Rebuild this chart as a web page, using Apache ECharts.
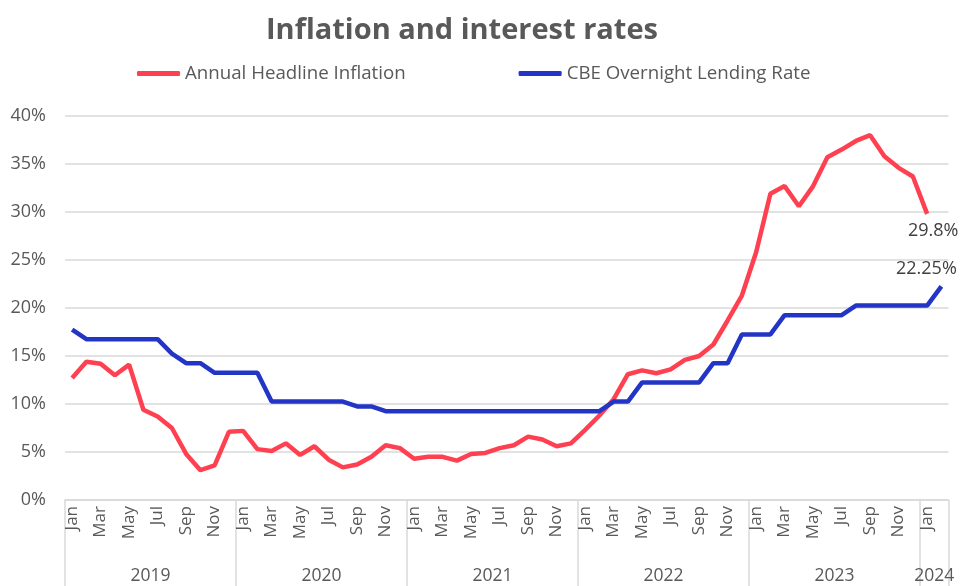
<!DOCTYPE html>
<html>
<head>
<meta charset="utf-8">
<script src="https://cdn.jsdelivr.net/npm/echarts@6/dist/echarts.min.js"></script>
<style>
  html, body { margin: 0; padding: 0; background: #fff; }
  #chart { width: 960px; height: 586px; }
</style>
</head>
<body>
<div id="chart"></div>
<script>
// Monthly categories, Jan 2019 – Feb 2024
const monthNames = ['Jan','Feb','Mar','Apr','May','Jun','Jul','Aug','Sep','Oct','Nov','Dec'];
const years = ['2019', '2020', '2021', '2022', '2023', '2024'];
const months = [];
years.forEach(y => monthNames.forEach(m => months.push(m)));
months.length = 62;

// Annual headline inflation, % (through Jan 2024)
const inflation = [
  12.7, 14.4, 14.2, 13.0, 14.1, 9.4, 8.7, 7.5, 4.8, 3.1, 3.6, 7.1,
  7.2, 5.3, 5.1, 5.9, 4.7, 5.6, 4.2, 3.4, 3.7, 4.5, 5.7, 5.4,
  4.3, 4.5, 4.5, 4.1, 4.8, 4.9, 5.4, 5.7, 6.6, 6.3, 5.6, 5.9,
  7.3, 8.8, 10.5, 13.1, 13.5, 13.2, 13.6, 14.6, 15.0, 16.2, 18.7, 21.3,
  25.8, 31.9, 32.7, 30.6, 32.7, 35.7, 36.5, 37.4, 38.0, 35.8, 34.6, 33.7,
  29.8
];

// CBE overnight lending rate, %
const lendingRate = [
  17.75, 16.75, 16.75, 16.75, 16.75, 16.75, 16.75, 15.25, 14.25, 14.25, 13.25, 13.25,
  13.25, 13.25, 10.25, 10.25, 10.25, 10.25, 10.25, 10.25, 9.75, 9.75, 9.25, 9.25,
  9.25, 9.25, 9.25, 9.25, 9.25, 9.25, 9.25, 9.25, 9.25, 9.25, 9.25, 9.25,
  9.25, 9.25, 10.25, 10.25, 12.25, 12.25, 12.25, 12.25, 12.25, 14.25, 14.25, 17.25,
  17.25, 17.25, 19.25, 19.25, 19.25, 19.25, 19.25, 20.25, 20.25, 20.25, 20.25, 20.25,
  20.25, 22.25
];

// Year bands on the month scale: boundaries and band centres
const yearBoundaries = [0, 12, 24, 36, 48, 60, 62];
const yearCentres = [6, 18, 30, 42, 54, 61];

const textColor = '#595959';
const gridColor = '#d9d9d9';
const font = '"Open Sans", "Noto Sans", sans-serif';

// Value label at the latest point of a line
function endLabel(values, offset) {
  return {
    show: true,
    formatter: () => values[values.length - 1] + '%',
    distance: 0,
    offset: offset,
    align: 'center',
    verticalAlign: 'middle',
    color: '#404040',
    fontFamily: font,
    fontSize: 18
  };
}

const chart = echarts.init(document.getElementById('chart'), null, { renderer: 'canvas' });
chart.setOption({
  animation: false,
  title: {
    text: 'Inflation and interest rates',
    left: 261,
    top: 11,
    textStyle: { fontFamily: font, fontSize: 29, fontWeight: 'bold', color: textColor }
  },
  legend: {
    left: 137,
    top: 64,
    padding: 0,
    icon: 'roundRect',
    itemWidth: 43,
    itemHeight: 5,
    itemGap: 113,
    textStyle: { fontFamily: font, fontSize: 18.7, color: textColor },
    data: ['Annual Headline Inflation', 'CBE Overnight Lending Rate']
  },
  grid: { left: 65, right: 11.5, top: 116, bottom: 86, containLabel: false },
  xAxis: [
    {
      type: 'category',
      data: months,
      boundaryGap: true,
      axisLine: { lineStyle: { color: gridColor, width: 1.5 } },
      axisTick: { show: false },
      axisLabel: {
        interval: 1,
        rotate: 90,
        margin: 6,
        fontFamily: font,
        fontSize: 17,
        color: textColor
      }
    },
    {
      type: 'value',
      position: 'bottom',
      min: 0,
      max: 62,
      axisLine: { show: false },
      splitLine: { show: false },
      axisTick: {
        show: true,
        customValues: yearBoundaries,
        length: 86,
        lineStyle: { color: gridColor, width: 1.5 }
      },
      axisLabel: {
        customValues: yearCentres,
        formatter: v => years[Math.floor(v / 12)],
        margin: 67,
        fontFamily: font,
        fontSize: 17.5,
        color: textColor
      }
    }
  ],
  yAxis: {
    type: 'value',
    min: 0,
    max: 40,
    interval: 5,
    axisLine: { show: false },
    axisTick: { show: false },
    splitLine: { lineStyle: { color: gridColor, width: 1.5 } },
    axisLabel: {
      formatter: '{value}%',
      margin: 19,
      fontFamily: font,
      fontSize: 18,
      color: textColor
    }
  },
  series: [
    {
      name: 'Annual Headline Inflation',
      type: 'line',
      xAxisIndex: 0,
      symbol: 'none',
      color: '#ff4051',
      lineStyle: { width: 4.5, color: '#ff4051' },
      endLabel: endLabel(inflation, [6, 17]),
      data: inflation
    },
    {
      name: 'CBE Overnight Lending Rate',
      type: 'line',
      xAxisIndex: 0,
      symbol: 'none',
      color: '#2335c6',
      lineStyle: { width: 4.5, color: '#2335c6' },
      endLabel: endLabel(lendingRate, [-15, -18]),
      data: lendingRate
    }
  ]
});
</script>
</body>
</html>
